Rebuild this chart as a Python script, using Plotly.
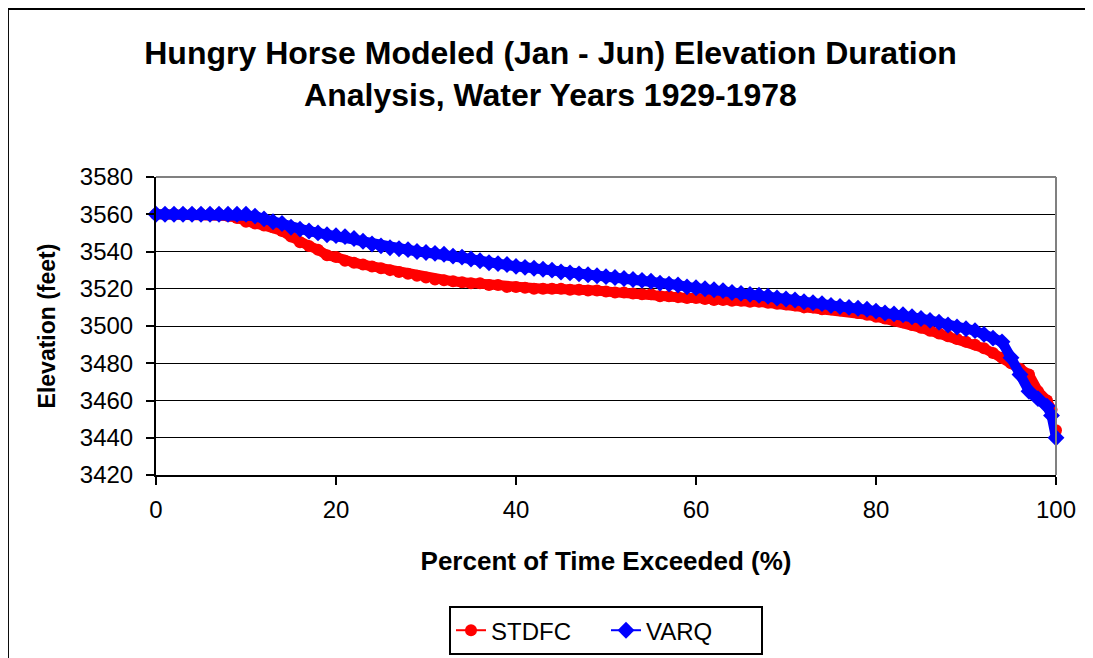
import plotly.graph_objects as go

# percent of time exceeded (x) and modeled elevations (ft)
pct = list(range(100)) + [99.5, 100]

stdfc = [
    3560, 3560, 3560, 3560, 3560, 3560, 3560, 3560, 3559, 3558,
    3556, 3555, 3554, 3553, 3551, 3548, 3545, 3543, 3541, 3538,
    3537, 3535, 3534, 3533, 3532, 3531, 3530, 3529, 3528, 3527,
    3526, 3525, 3524.5, 3524, 3523.5, 3523, 3523, 3522, 3522, 3521,
    3521, 3520.5, 3520, 3520, 3520, 3520, 3519.5, 3519.5, 3519, 3519,
    3518.5, 3518, 3518, 3517.5, 3517, 3517, 3516, 3516, 3515.5, 3515,
    3515, 3514.5, 3514, 3514, 3513.5, 3513.5, 3513, 3513, 3512.5, 3512,
    3511.5, 3511, 3510, 3510, 3509, 3509, 3508.5, 3508, 3507, 3506,
    3505, 3504, 3503, 3502, 3500.5, 3499, 3497.5, 3496, 3494.5, 3493,
    3491.5, 3490, 3488, 3485.5, 3483, 3480, 3477, 3474, 3465, 3460,
    3455, 3444,
]

varq = [
    3560, 3560, 3560, 3560, 3560, 3560, 3560, 3560, 3560, 3560,
    3560, 3559, 3557.5, 3556, 3555, 3553, 3552, 3551, 3550, 3549,
    3548.5, 3548, 3547, 3545.5, 3544, 3543, 3542, 3541.5, 3541, 3540,
    3539.5, 3539, 3538.5, 3537.5, 3537, 3536, 3535, 3534, 3533.5, 3533,
    3532, 3531.5, 3531, 3530.5, 3530, 3529, 3528.5, 3528, 3527.5, 3527,
    3526.5, 3526, 3525.5, 3525, 3524.5, 3524, 3523, 3522.5, 3522, 3521,
    3520.5, 3520, 3519.5, 3519, 3518, 3517.5, 3517, 3516.5, 3516, 3515,
    3514.5, 3514, 3513, 3512.5, 3512, 3511, 3510.5, 3510, 3509.5, 3509,
    3508, 3507, 3506.5, 3506, 3505, 3504, 3503, 3502, 3500.5, 3499.5,
    3498.5, 3497.5, 3495.5, 3493.5, 3491.5, 3483, 3474, 3465, 3461, 3457,
    3452, 3440,
]

x_ticks = [0, 20, 40, 60, 80, 100]
y_ticks = [3420, 3440, 3460, 3480, 3500, 3520, 3540, 3560, 3580]

FONT = "Arial, Liberation Sans, sans-serif"
RED = "#ff0000"
BLUE = "#0000ff"

fig = go.Figure()
# the original has ~300 overlapping markers per series; a wide line under the
# markers gives the same solid band
for ys, col in [(stdfc, RED), (varq, BLUE)]:
    fig.add_trace(go.Scatter(
        x=pct, y=ys, mode="lines", showlegend=False, hoverinfo="skip",
        line=dict(color=col, width=10), cliponaxis=False,
    ))
    fig.add_trace(go.Scatter(
        x=pct, y=ys, name="STDFC" if col == RED else "VARQ", mode="lines+markers",
        line=dict(color=col, width=2),
        marker=dict(symbol="circle" if col == RED else "diamond",
                    size=12 if col == RED else 13, color=col),
        cliponaxis=False,
    ))

fig.update_layout(
    width=1085, height=650,
    margin=dict(l=148, r=37, t=169, b=183, autoexpand=False),
    plot_bgcolor="white", paper_bgcolor="white",
    font=dict(family=FONT, color="black", size=24),
    title=dict(
        text="<b>Hungry Horse Modeled (Jan - Jun) Elevation Duration<br>Analysis, Water Years 1929-1978</b>",
        x=0.5, xanchor="center", y=0.914, yanchor="middle",
        font=dict(size=32, family=FONT),
    ),
    legend=dict(
        orientation="h", x=0.5, xanchor="center", y=-0.44, yanchor="top",
        bordercolor="black", borderwidth=2, bgcolor="white",
        font=dict(size=24), entrywidth=110, entrywidthmode="pixels",
    ),
    showlegend=True,
    shapes=[
        # grey top and right edges of plot area
        dict(type="line", xref="paper", yref="paper", x0=0, x1=1, y0=1, y1=1,
             line=dict(color="#808080", width=2)),
        dict(type="line", xref="paper", yref="paper", x0=1, x1=1, y0=0, y1=1,
             line=dict(color="#808080", width=2)),
        # outer chart frame
        dict(type="rect", xref="paper", yref="paper",
             x0=-0.1645, x1=1.06, y0=-0.66, y1=1.564,
             line=dict(color="black", width=2), layer="below"),
    ],
)

fig.update_xaxes(
    range=[0, 100], tickvals=x_ticks, showgrid=False, zeroline=False,
    showline=True, linecolor="black", linewidth=2,
    ticks="outside", ticklen=8, tickwidth=2, tickcolor="black",
    tickfont=dict(size=24), ticklabelstandoff=4,
    title=dict(text="<b>Percent of Time Exceeded (%)</b>", font=dict(size=26), standoff=30),
)
fig.update_yaxes(
    range=[3420, 3580], tickvals=y_ticks, showgrid=True, gridcolor="black", gridwidth=1,
    zeroline=False, showline=True, linecolor="black", linewidth=2,
    ticks="outside", ticklen=8, tickwidth=2, tickcolor="black",
    tickfont=dict(size=24), ticklabelstandoff=8,
    title=dict(text="<b>Elevation (feet)</b>", font=dict(size=23), standoff=18),
)

fig.write_html("out.html")
